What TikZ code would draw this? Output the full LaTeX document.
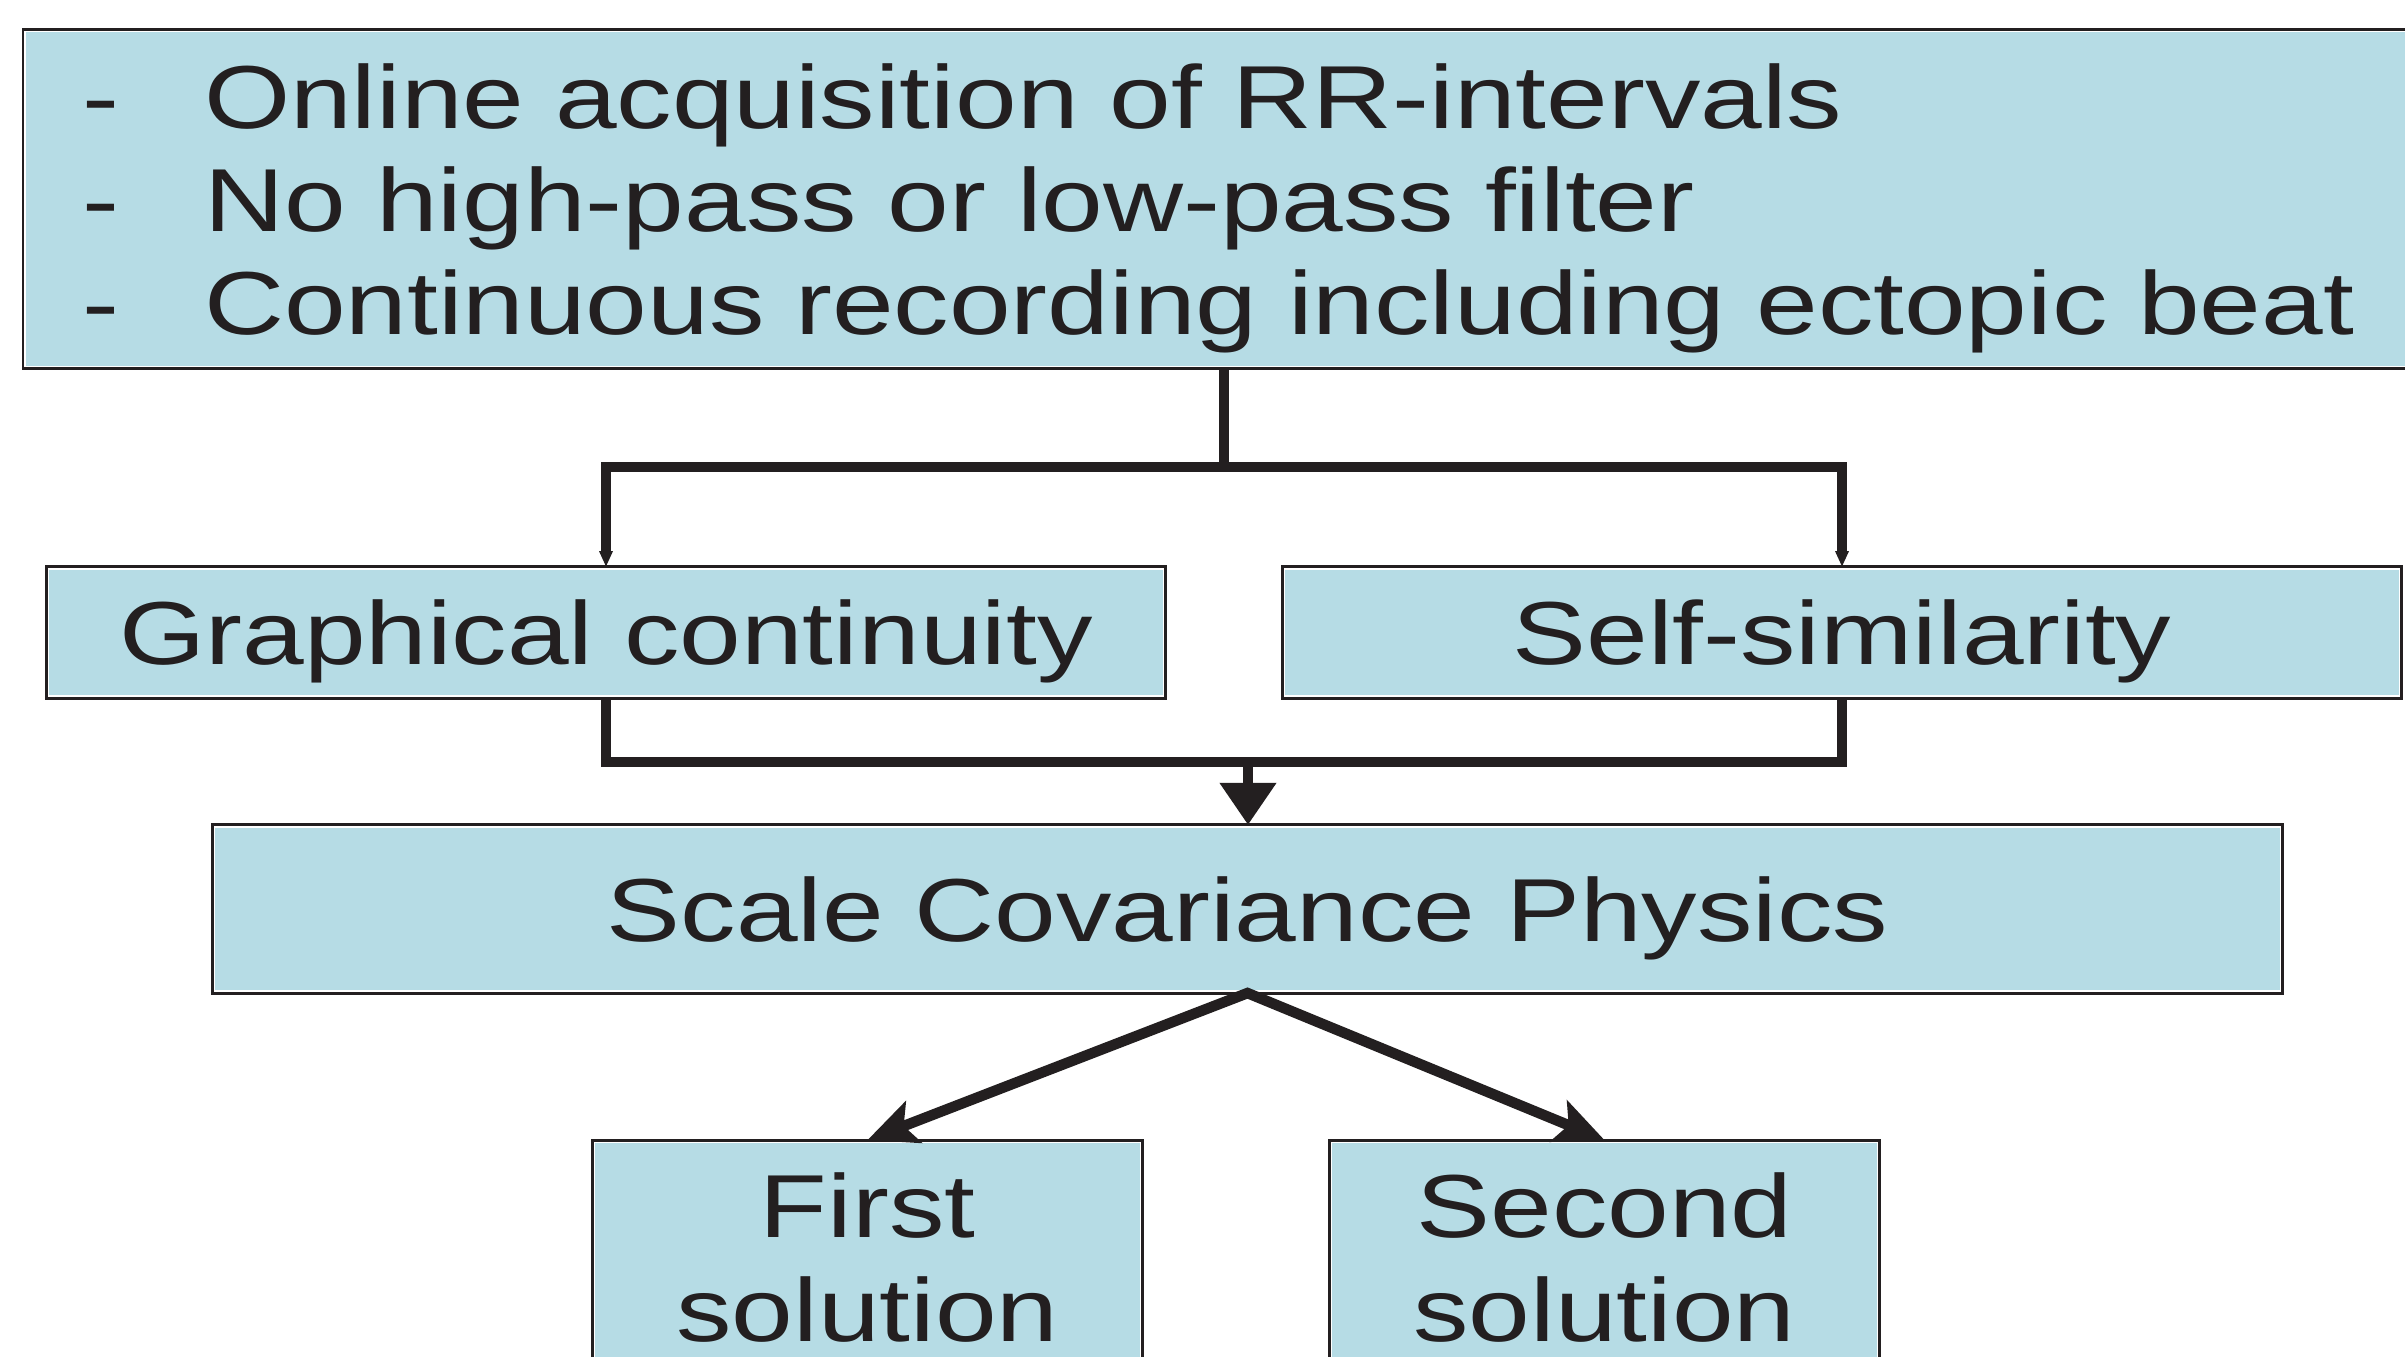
\documentclass[tikz,border=0pt]{standalone}
\usepackage{fontspec}
\setmainfont[FakeStretch=1.239]{Liberation Sans}
\usetikzlibrary{arrows.meta}
\definecolor{boxfill}{RGB}{182,220,229}
\definecolor{ink}{RGB}{35,31,32}
\begin{document}
\begin{tikzpicture}[x=0.01cm,y=-0.01cm,
  box/.style={draw=ink, line width=0.85pt, fill=boxfill, inner sep=0pt, outer sep=0pt,
    path picture={\draw[white, line width=1.5pt] (path picture bounding box.south west) rectangle (path picture bounding box.north east);}},
  txt/.style={font=\fontsize{25.44}{29.5}\selectfont, text=ink, inner sep=0pt, outer sep=0pt},
  captext/.style={txt, text height=18.2pt, text depth=0pt},
  conn/.style={draw=ink, line width=3pt},
  smalltip/.style={-{Triangle[length=4.5pt,width=3.6pt]}},
  bigtip/.style={-{Triangle[length=12pt,width=15.4pt]}},
  sidetip/.style={{Stealth[length=14pt,width=12.5pt,inset=3pt]}-{Stealth[length=14pt,width=12.5pt,inset=3pt]}}
]
\fill[white] (0,0) rectangle (2405,1356);
\useasboundingbox (0,0) rectangle (2405,1356);

% top box
\node[box, anchor=north west, minimum width=24.2cm, minimum height=3.39cm] (top) at (23,29) {};
\node[txt, anchor=base west] (d1) at (82,128) {-};
\node[txt, anchor=base west] (d2) at (82,231) {-};
\node[txt, anchor=base west] (d3) at (82,334) {-};
\node[txt, anchor=base west] (l1) at (204,128) {Online acquisition of RR-intervals};
\node[txt, anchor=base west] (l2) at (204,231) {No high-pass or low-pass filter};
\node[txt, anchor=base west] (l3) at (204,334) {Continuous recording including ectopic beat};

% middle boxes
\node[box, captext, minimum width=11.18cm, minimum height=1.31cm] (g) at (606,632.5) {Graphical continuity};
\node[box, captext, minimum width=11.18cm, minimum height=1.31cm] (s) at (1842,632.5) {Self-similarity};

% scale covariance
\node[box, captext, minimum width=20.69cm, minimum height=1.68cm] (scp) at (1247.5,909) {Scale Covariance Physics};

% solutions
\node[box, anchor=north, minimum width=5.49cm, minimum height=3cm] (f) at (867.5,1140) {};
\node[txt, anchor=base] (f1) at (867.5,1237) {First};
\node[txt, anchor=base] (f2) at (867.5,1341) {solution};
\node[box, anchor=north, minimum width=5.49cm, minimum height=3cm] (sec) at (1604.5,1140) {};
\node[txt, anchor=base] (s1) at (1604.5,1237) {Second};
\node[txt, anchor=base] (s2) at (1604.5,1341) {solution};

% connectors
\coordinate (ja) at (1224,467);
\draw[conn] (top.south -| ja) -- (ja);
\draw[conn, smalltip] (ja) -| (g.north);
\draw[conn, smalltip] (ja) -| (s.north);

\coordinate (jb) at (1248,762);
\draw[conn] (g.south) |- (jb) -| (s.south);
\draw[conn, bigtip] (jb) -- (scp.north -| jb);

\draw[conn, sidetip] (f.north) -- (scp.south) -- (sec.north);
\end{tikzpicture}
\end{document}
